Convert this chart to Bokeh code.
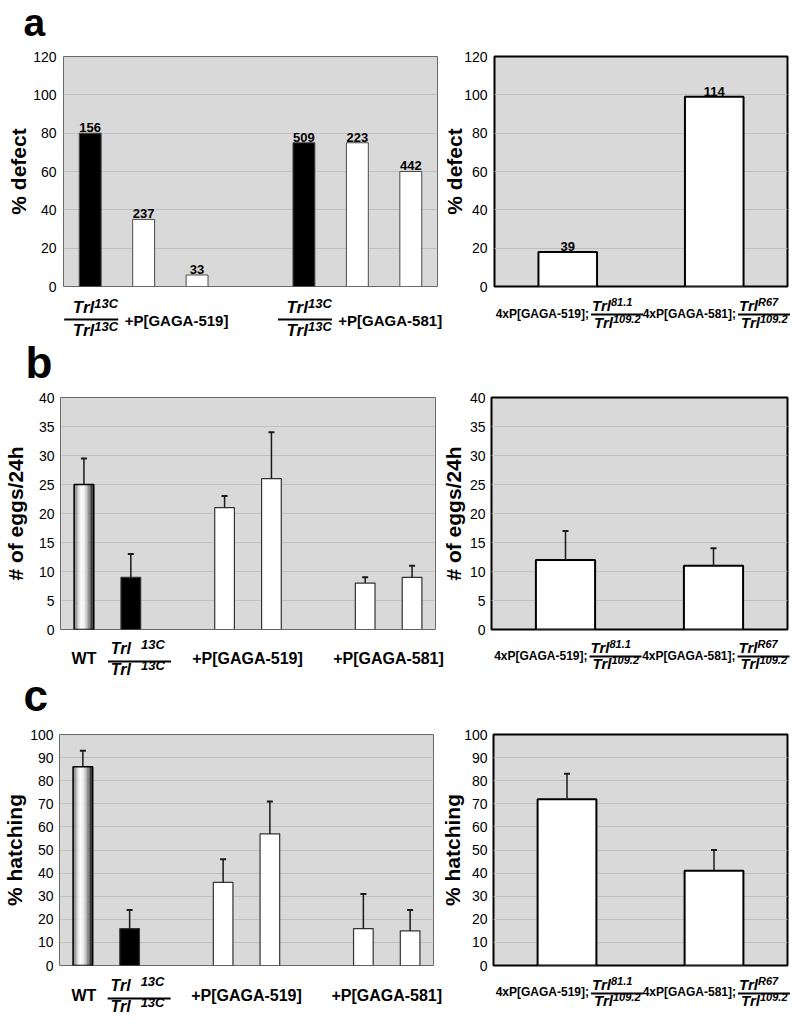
import numpy as np
from bokeh.plotting import figure
from bokeh.layouts import column, row
from bokeh.models import FactorRange, Range1d, FixedTicker, ColumnDataSource
from bokeh.core.properties import value
from bokeh.embed import file_html
from bokeh.resources import INLINE

FONT = "Liberation Sans"
BG = "#d9d9d9"
GRID = "#c0c0c0"
MID = 0.35  # distance (em) from baseline to the middle of a text box

# ---------------- data ----------------
# panel a, left: % defect (n above bars)
a_left_factors = [("519", "Trl13C"), ("519", "+519 #1"), ("519", "+519 #2"),
                  ("581", "Trl13C"), ("581", "+581 #1"), ("581", "+581 #2")]
a_left_defect = [80, 35, 6, 75, 75, 60]
a_left_n = ["156", "237", "33", "509", "223", "442"]
a_left_fill = ["black", "white", "white", "black", "white", "white"]

# right panels: genotype categories
right_cats = ["4xP[GAGA-519]", "4xP[GAGA-581]"]
right_sup_num = ["81.1", "R67"]
right_sup_den = ["109.2", "109.2"]
a_right_defect = [18, 99]
a_right_n = ["39", "114"]

# panels b, c left
bc_left_factors = [("ctl", "WT"), ("ctl", "Trl13C"), ("519", "#1"), ("519", "#2"),
                   ("581", "#1"), ("581", "#2")]
bc_left_fill = ["wt", "black", "white", "white", "white", "white"]
b_left_eggs = [25, 9, 21, 26, 8, 9]
b_left_err = [4.5, 4, 2, 8, 1, 2]
c_left_hatch = [86, 16, 36, 57, 16, 15]
c_left_err = [7, 8, 10, 14, 15, 9]

# panels b, c right
b_right_eggs = [12, 11]
b_right_err = [5, 3]
c_right_hatch = [72, 41]
c_right_err = [11, 9]

a_ticks = [0, 20, 40, 60, 80, 100, 120]
b_ticks = [0, 5, 10, 15, 20, 25, 30, 35, 40]
c_ticks = [0, 10, 20, 30, 40, 50, 60, 70, 80, 90, 100]


def centers(factors, group_padding=1.0):
    pos, x, prev = {}, 0.0, None
    for f in factors:
        if isinstance(f, tuple):
            if prev is not None and f[0] != prev:
                x += group_padding
            prev = f[0]
        pos[f] = x + 0.5
        x += 1
    return pos


def make_fig(w, h, xr, ymax, ticks, ylabel, mb, left_panel, tick_standoff, lab_standoff):
    p = figure(width=w, height=h, x_range=xr, y_range=Range1d(0, ymax),
               output_backend="svg", toolbar_location=None, title=None,
               min_border_left=mb[0], min_border_right=mb[1],
               min_border_top=mb[2], min_border_bottom=mb[3])
    p.background_fill_color = BG
    p.border_fill_color = "white"
    if left_panel:
        p.outline_line_color = "#6a6a6a"
        p.outline_line_width = 1
    else:
        p.outline_line_color = "black"
        p.outline_line_width = 2
    p.xaxis.visible = False
    p.xgrid.visible = False
    p.ygrid.ticker = FixedTicker(ticks=ticks)
    p.ygrid.grid_line_color = GRID
    p.ygrid.grid_line_width = 1
    ax = p.yaxis[0]
    ax.ticker = FixedTicker(ticks=ticks)
    ax.axis_line_color = None
    ax.major_tick_line_color = None
    ax.minor_tick_line_color = None
    ax.major_tick_out = 0
    ax.major_tick_in = 0
    ax.major_label_standoff = tick_standoff
    ax.major_label_text_font = FONT
    ax.major_label_text_font_size = "14px"
    ax.major_label_text_color = "black"
    ax.axis_label = ylabel
    ax.axis_label_text_font = FONT
    ax.axis_label_text_font_size = "21px"
    ax.axis_label_text_font_style = "bold"
    ax.axis_label_text_color = "black"
    ax.axis_label_standoff = lab_standoff
    return p


class Strip:
    """Full-width text strip between chart rows.  Page pixel coordinates for the
    default ranges; extra x ranges reproduce each chart's category scale."""

    def __init__(self, y_top, y_bot, charts):
        h = y_bot - y_top
        s = figure(width=800, height=h, x_range=Range1d(0, 800),
                   y_range=Range1d(y_bot, y_top), output_backend="svg",
                   toolbar_location=None, title=None, x_axis_type=None,
                   y_axis_type=None, min_border=0)
        s.grid.visible = False
        s.outline_line_color = None
        s.background_fill_color = "white"
        s.border_fill_color = "white"
        self.ppu = {}
        for name, (L, R, n) in charts.items():
            ppu = (R - L) / float(n)
            s.extra_x_ranges[name] = Range1d(-L / ppu, (800 - L) / ppu)
            self.ppu[name] = ppu
        self.fig = s

    def txt(self, rn, x, dx, yb, text, size, style="bold", align="center"):
        kw = {}
        if rn is not None:
            x = x + dx / self.ppu[rn]
            kw["x_range_name"] = rn
        else:
            x = x + dx
        self.fig.text(x=[x], y=[yb - MID * size], text=[text], text_font=value(FONT),
                      text_font_size="%gpx" % size, text_font_style=style,
                      text_align=align, text_baseline="middle", text_color="black", **kw)

    def frac(self, rn, x, cx, base, sup_n, sup_d, ys, fs, fss, bar_w, split_n, split_d, gap=0):
        y_num, y_bar, y_den, rise = ys
        self.txt(rn, x, cx + split_n, y_num, base, fs, "bold italic", "right")
        self.txt(rn, x, cx + split_n + gap, y_num - rise, sup_n, fss, "bold italic", "left")
        ppu = self.ppu[rn]
        self.fig.segment(x0=[x + (cx - bar_w / 2.0) / ppu], x1=[x + (cx + bar_w / 2.0) / ppu],
                         y0=[y_bar], y1=[y_bar], line_color="black", line_width=2,
                         x_range_name=rn)
        self.txt(rn, x, cx + split_d, y_den, base, fs, "bold italic", "right")
        self.txt(rn, x, cx + split_d + gap, y_den - rise, sup_d, fss, "bold italic", "left")


def wt_bar(p, factor, top, width):
    greys = [110, 150, 190, 225, 245, 255, 250, 235, 210, 180, 140, 100, 60, 25]
    n = len(greys)
    sw = width / n
    xs = [(factor[0], factor[1], -width / 2 + (k + 0.5) * sw) for k in range(n)]
    cols = ["#%02x%02x%02x" % (g, g, g) for g in greys]
    p.vbar(x=xs, top=[top] * n, width=sw * 1.02, fill_color=cols, line_color=None)
    p.vbar(x=[factor], top=[top], width=width, fill_color=None, line_color="black",
           line_width=1.5)


def err_bars(p, xs, vals, errs):
    tops = [v + e for v, e in zip(vals, errs)]
    p.segment(x0=xs, y0=vals, x1=xs, y1=tops, line_color="#1a1a1a", line_width=1.5)
    p.scatter(x=xs, y=tops, marker="dash", size=6, line_color="#1a1a1a", line_width=2)


def count_labels(p, src):
    p.text(x="x", y="top", text="n", source=src, text_font=value(FONT),
           text_font_size="13px", text_font_style="bold", text_align="center",
           text_baseline="middle", y_offset=-(1 + MID * 13))


def right_labels(st, y_txt, ys):
    pos = centers(right_cats)
    for c, sn, sd in zip(right_cats, right_sup_num, right_sup_den):
        x = pos[c]
        st.txt("R", x, 22, y_txt, c + ";", 12, "bold", "right")
        st.frac("R", x, 50, "Trl", sn, sd, ys, 15, 11, 52, -6, -4)


def left_bc_labels(st, y_txt, ys):
    pos = centers(bc_left_factors)
    st.txt("L", pos[("ctl", "WT")], 1, y_txt, "WT", 16, "bold", "center")
    st.frac("L", pos[("ctl", "Trl13C")], 9.5, "Trl", "13C", "13C", ys,
            16, 13, 63, -8.5, -8.5, gap=10)
    for g in ["519", "581"]:
        xc = 0.5 * (pos[(g, "#1")] + pos[(g, "#2")])
        st.txt("L", xc, 0, y_txt, "+P[GAGA-%s]" % g, 16, "bold", "center")


# ---------------- charts ----------------
# row a  (page y 45..295; frames 55..287 / 56..286)
pa1 = make_fig(440, 250, FactorRange(*a_left_factors, group_padding=1.0, range_padding=0),
               120, a_ticks, "% defect", (63, 3, 10, 8), True, 7, 0)
src = ColumnDataSource(dict(x=a_left_factors, top=a_left_defect, fill=a_left_fill,
                            n=a_left_n))
pa1.vbar(x="x", top="top", width=0.41, fill_color="fill", line_color="#4a4a4a",
         line_width=1, source=src)
count_labels(pa1, src)

pa2 = make_fig(360, 250, FactorRange(*right_cats, range_padding=0), 120, a_ticks,
               "% defect", (53, 13, 11, 9), False, 7, -5)
src = ColumnDataSource(dict(x=right_cats, top=a_right_defect, n=a_right_n))
pa2.vbar(x="x", top="top", width=0.4, fill_color="white", line_color="black",
         line_width=2, source=src)
count_labels(pa2, src)


def left_bc(w, L, R, B, top_b, ymax, ticks, ylabel, lab_standoff, vals, errs):
    p = make_fig(w, 250, FactorRange(*bc_left_factors, group_padding=1.0, range_padding=0),
                 ymax, ticks, ylabel, (L, w - R, top_b, B), True, 6, lab_standoff)
    width = 0.42
    for f, v, kind in zip(bc_left_factors, vals, bc_left_fill):
        if kind == "wt":
            wt_bar(p, f, v, width)
    others = [(f, v, k) for f, v, k in zip(bc_left_factors, vals, bc_left_fill) if k != "wt"]
    p.vbar(x=[o[0] for o in others], top=[o[1] for o in others], width=width,
           fill_color=[o[2] for o in others], line_color="#333333", line_width=1.2)
    err_bars(p, bc_left_factors, vals, errs)
    return p


def right_bc(w, L, R, B, top_b, ymax, ticks, ylabel, lab_standoff, vals, errs):
    p = make_fig(w, 250, FactorRange(*right_cats, range_padding=0), ymax, ticks, ylabel,
                 (L, w - R, top_b, B), False, 6, lab_standoff)
    p.vbar(x=right_cats, top=vals, width=0.4, fill_color="white", line_color="black",
           line_width=2)
    err_bars(p, right_cats, vals, errs)
    return p


# row b (page y 387..637; frames 397..629 / 396..629)
pb1 = left_bc(437, 59, 435, 8, 10, 40, b_ticks, "# of eggs/24h", 9, b_left_eggs, b_left_err)
pb2 = right_bc(363, 54, 350, 8, 9, 40, b_ticks, "# of eggs/24h", 2, b_right_eggs, b_right_err)
# row c (page y 724..974; frames 734..966 / 732..965)
pc1 = left_bc(438, 59, 433, 8, 10, 100, c_ticks, "% hatching", 1, c_left_hatch, c_left_err)
pc2 = right_bc(362, 55, 349, 9, 8, 100, c_ticks, "% hatching", -3, c_right_hatch, c_right_err)

# ---------------- text strips ----------------
top = Strip(0, 45, {})
top.txt(None, 23, 0, 36, "a", 39, "bold", "left")

s_ab = Strip(295, 387, {"L": (63, 437, 7), "R": (493, 787, 2)})
pa_pos = centers(a_left_factors)
for g in ["519", "581"]:
    s_ab.frac("L", pa_pos[(g, "Trl13C")], 1, "Trl", "13C", "13C", (313, 319, 336, 5),
              17, 13, 54, 3, 3)
    s_ab.txt("L", pa_pos[(g, "+%s #1" % g)], -19, 325, "+P[GAGA-%s]" % g, 15, "bold", "left")
right_labels(s_ab, 318, (310, 314, 327, 5))
s_ab.txt(None, 25, 0, 377, "b", 44, "bold", "left")

s_bc = Strip(637, 724, {"L": (59, 435, 8), "R": (491, 787, 2)})
left_bc_labels(s_bc, 664, (654, 661, 675, 5))
right_labels(s_bc, 660, (652, 656, 668, 5))
s_bc.txt(None, 23, 0, 710, "c", 44, "bold", "left")

s_c = Strip(974, 1020, {"L": (59, 433, 8), "R": (493, 787, 2)})
left_bc_labels(s_c, 1001, (991, 998, 1012, 5))
right_labels(s_c, 996, (989, 993, 1005, 5))

layout = column(top.fig, row(pa1, pa2), s_ab.fig, row(pb1, pb2), s_bc.fig,
                row(pc1, pc2), s_c.fig)
open("out.html", "w").write(file_html(layout, INLINE))
